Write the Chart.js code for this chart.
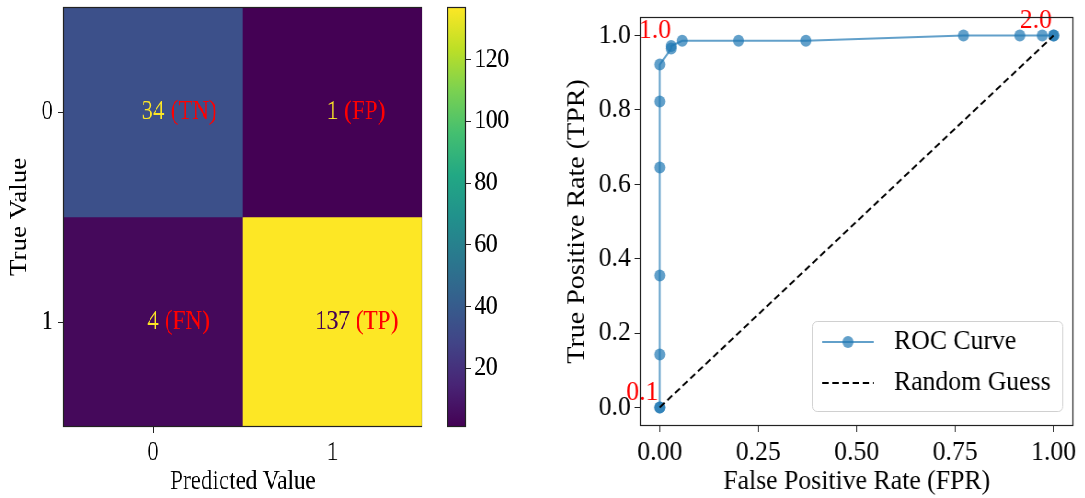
<!DOCTYPE html>
<html>
<head>
<meta charset="utf-8">
<script src="https://cdn.jsdelivr.net/npm/chart.js@4/dist/chart.umd.min.js"></script>
<style>
  body { margin: 0; background: #fff; }
  #wrap { position: relative; width: 1085px; height: 498px; overflow: hidden; }
  .panel { position: absolute; top: 0; height: 498px; transform-origin: 0 0; }
  canvas { position: absolute; top: 0; }
</style>
</head>
<body>
<div id="wrap">
  <!-- the reference panels are squeezed sideways, so each one is drawn wider and scaled in x -->
  <div class="panel" style="left:0; width:620px; transform:scaleX(0.855)">
    <canvas id="cm" width="510" height="498" style="left:0"></canvas>
    <canvas id="cbar" width="97" height="498" style="left:523px"></canvas>
  </div>
  <div class="panel" style="left:560px; width:571px; transform:scaleX(0.92)">
    <canvas id="roc" width="571" height="498" style="left:0"></canvas>
  </div>
</div>
<script>
// confusion matrix
const predLabels = ['0', '1'];
const trueLabels = ['0', '1'];
const counts = [[34, 1], [4, 137]];
const cellTags = [['(TN)', '(FP)'], ['(FN)', '(TP)']];
const cbarTicks = [20, 40, 60, 80, 100, 120];

// roc curve
const fpr = [0, 0, 0, 0, 0, 0, 0, 0.029, 0.029, 0.057, 0.2, 0.371, 0.771, 0.914, 0.971, 1, 1];
const tpr = [0, 0, 0.142, 0.355, 0.645, 0.823, 0.922, 0.965, 0.972, 0.986, 0.986, 0.986, 1, 1, 1, 1, 1];
const guessX = [0, 1];
const guessY = [0, 1];
const rocTicksX = [0, 0.25, 0.5, 0.75, 1];
const rocTicksY = [0, 0.2, 0.4, 0.6, 0.8, 1];
const thrNotes = ['1.0', '0.1', '2.0'];
const thrAt = [[-0.012, 1.013], [-0.044, 0.04], [0.955, 1.04]];

const FAMILY = '"Liberation Serif", "Times New Roman", serif';
Chart.defaults.font.family = FAMILY;
Chart.defaults.font.size = 27;
Chart.defaults.color = '#000';
Chart.defaults.animation = false;

const viridis = ['#440154', '#482475', '#414487', '#355f8d', '#2a788e', '#21918c',
                 '#22a884', '#44bf70', '#7ad151', '#bddf26', '#fde725'];
function hex(c) { return [1, 3, 5].map(i => parseInt(c.substr(i, 2), 16)); }
function cmap(t) {
  t = Math.max(0, Math.min(1, t));
  const p = t * (viridis.length - 1), i = Math.min(Math.floor(p), viridis.length - 2), f = p - i;
  const a = hex(viridis[i]), b = hex(viridis[i + 1]);
  return 'rgb(' + a.map((v, k) => Math.round(v + (b[k] - v) * f)).join(',') + ')';
}
const flat = counts.flat();
const vmin = Math.min(...flat), vmax = Math.max(...flat);
const norm = v => (v - vmin) / (vmax - vmin);

const frame = {
  id: 'frame',
  afterDraw(chart) {
    const a = chart.chartArea, ctx = chart.ctx;
    ctx.save();
    ctx.strokeStyle = '#222';
    ctx.lineWidth = 1.2;
    ctx.strokeRect(a.left + 0.5, a.top + 0.5, a.right - a.left - 1, a.bottom - a.top - 1);
    ctx.restore();
  }
};

const tickGrid = { display: true, drawOnChartArea: false, drawTicks: true, tickLength: 6, color: '#222' };
const noPad = s => { s.paddingTop = 0; s.paddingBottom = 0; };

// heatmap: one floating bar per cell
const nRows = trueLabels.length;
const cmSets = trueLabels.map((t, r) => ({
  label: t,
  data: predLabels.map(() => [nRows - 1 - r, nRows - r]),
  backgroundColor: predLabels.map((p, c) => cmap(norm(counts[r][c]))),
  borderWidth: 0,
  barPercentage: 1,
  categoryPercentage: 1,
  grouped: false
}));

const cellText = {
  id: 'cellText',
  afterDatasetsDraw(chart) {
    const ctx = chart.ctx, xs = chart.scales.x, ys = chart.scales.y;
    ctx.save();
    ctx.font = '27px ' + FAMILY;
    ctx.textBaseline = 'middle';
    counts.forEach((row, r) => row.forEach((v, c) => {
      const cx = xs.getPixelForValue(c);
      const cy = ys.getPixelForValue(nRows - 1 - r + 0.5);
      const s = String(v);
      const w = ctx.measureText(s).width;
      ctx.textAlign = 'center';
      ctx.fillStyle = norm(v) > 0.5 ? viridis[0] : viridis[viridis.length - 1];
      ctx.fillText(s, cx, cy);
      ctx.textAlign = 'left';
      ctx.fillStyle = 'red';
      ctx.fillText(cellTags[r][c], cx + w / 2 + 7, cy);
    }));
    ctx.restore();
  }
};

new Chart(document.getElementById('cm'), {
  type: 'bar',
  data: { labels: predLabels, datasets: cmSets },
  options: {
    responsive: false,
    layout: { padding: { top: 7, right: 16 } },
    plugins: { legend: { display: false }, tooltip: { enabled: false } },
    scales: {
      x: {
        grid: Object.assign({}, tickGrid, { offset: false }),
        border: { display: false },
        ticks: { padding: 4 },
        title: { display: true, text: 'Predicted Value', padding: { top: 0, bottom: 0 } },
        afterFit: s => { s.height = 71; }
      },
      y: {
        min: 0, max: nRows,
        grid: tickGrid,
        border: { display: false },
        ticks: { padding: 6, callback: v => trueLabels[nRows - 1 - Math.floor(v)] },
        afterBuildTicks: s => { s.ticks = trueLabels.map((t, i) => ({ value: nRows - 1 - i + 0.5 })); },
        title: { display: true, text: 'True Value', padding: { top: 7, bottom: 0 } },
        afterFit: s => { s.width = 74; noPad(s); }
      }
    }
  },
  plugins: [frame, cellText]
});

// colorbar
new Chart(document.getElementById('cbar'), {
  type: 'bar',
  data: {
    labels: [''],
    datasets: [{
      data: [[vmin, vmax]],
      borderWidth: 0,
      barPercentage: 1,
      categoryPercentage: 1,
      backgroundColor: ctx => {
        const a = ctx.chart.chartArea;
        if (!a) return viridis[0];
        const g = ctx.chart.ctx.createLinearGradient(0, a.bottom, 0, a.top);
        viridis.forEach((c, i) => g.addColorStop(i / (viridis.length - 1), c));
        return g;
      }
    }]
  },
  options: {
    responsive: false,
    layout: { padding: { top: 7, bottom: 71 } },
    plugins: { legend: { display: false }, tooltip: { enabled: false } },
    scales: {
      x: { display: false },
      y: {
        position: 'right',
        min: vmin, max: vmax,
        grid: tickGrid,
        border: { display: false },
        ticks: { padding: 4 },
        afterBuildTicks: s => { s.ticks = cbarTicks.map(v => ({ value: v })); },
        afterFit: s => { s.width = 75; noPad(s); }
      }
    }
  },
  plugins: [frame]
});

// roc
const rocBlue = 'rgba(31,119,180,0.7)';
const rocNotes = {
  id: 'rocNotes',
  afterDatasetsDraw(chart) {
    const ctx = chart.ctx, xs = chart.scales.x, ys = chart.scales.y;
    ctx.save();
    ctx.font = '28px ' + FAMILY;
    ctx.fillStyle = 'red';
    ctx.textAlign = 'center';
    ctx.textBaseline = 'middle';
    thrNotes.forEach((t, i) => ctx.fillText(t, xs.getPixelForValue(thrAt[i][0]), ys.getPixelForValue(thrAt[i][1])));
    ctx.restore();
  }
};

const boxLegend = {
  id: 'boxLegend',
  afterDraw(chart) {
    const ctx = chart.ctx, a = chart.chartArea;
    const w = 272, h = 90, x = a.right - 12 - w, y = a.bottom - 15 - h;
    ctx.save();
    ctx.fillStyle = 'rgba(255,255,255,0.8)';
    ctx.strokeStyle = '#d0d0d0';
    ctx.lineWidth = 1;
    ctx.beginPath();
    ctx.roundRect(x + 0.5, y + 0.5, w, h, 5);
    ctx.fill();
    ctx.stroke();
    chart.data.datasets.forEach((d, i) => {
      const ly = y + 21 + i * 41;
      ctx.strokeStyle = d.borderColor;
      ctx.lineWidth = 2;
      ctx.setLineDash(d.borderDash || []);
      ctx.beginPath();
      ctx.moveTo(x + 11, ly);
      ctx.lineTo(x + 67, ly);
      ctx.stroke();
      ctx.setLineDash([]);
      if (d.pointRadius) {
        ctx.fillStyle = d.backgroundColor;
        ctx.beginPath();
        ctx.arc(x + 39, ly, d.pointRadius, 0, Math.PI * 2);
        ctx.fill();
      }
      ctx.fillStyle = '#000';
      ctx.font = '28px ' + FAMILY;
      ctx.textBaseline = 'middle';
      ctx.fillText(d.label, x + 89, ly);
    });
    ctx.restore();
  }
};

new Chart(document.getElementById('roc'), {
  type: 'scatter',
  data: {
    datasets: [{
      label: 'ROC Curve',
      data: fpr.map((v, i) => ({ x: v, y: tpr[i] })),
      showLine: true,
      borderColor: rocBlue,
      backgroundColor: rocBlue,
      borderWidth: 2,
      pointRadius: 6,
      pointBorderWidth: 0,
      order: 2
    }, {
      label: 'Random Guess',
      data: guessX.map((v, i) => ({ x: v, y: guessY[i] })),
      showLine: true,
      borderColor: '#000',
      borderWidth: 2,
      borderDash: [7, 4],
      pointRadius: 0,
      order: 1
    }]
  },
  options: {
    responsive: false,
    font: { size: 28 },
    layout: { padding: { top: 17, right: 13 } },
    plugins: { legend: { display: false }, tooltip: { enabled: false } },
    scales: {
      x: {
        min: -0.05, max: 1.05,
        grid: tickGrid,
        border: { display: false },
        ticks: { padding: 4, font: { size: 28 }, callback: v => v.toFixed(2) },
        afterBuildTicks: s => { s.ticks = rocTicksX.map(v => ({ value: v })); },
        title: { display: true, text: 'False Positive Rate (FPR)', font: { size: 28 }, padding: { top: 0, bottom: 0 } },
        afterFit: s => { s.height = 72; }
      },
      y: {
        min: -0.05, max: 1.05,
        grid: tickGrid,
        border: { display: false },
        ticks: { padding: 4, font: { size: 28 }, callback: v => v.toFixed(1) },
        afterBuildTicks: s => { s.ticks = rocTicksY.map(v => ({ value: v })); },
        title: { display: true, text: 'True Positive Rate (TPR)', font: { size: 28 }, padding: { top: 2, bottom: 0 } },
        afterFit: s => { s.width = 87; noPad(s); }
      }
    }
  },
  plugins: [frame, rocNotes, boxLegend]
});
</script>
</body>
</html>
